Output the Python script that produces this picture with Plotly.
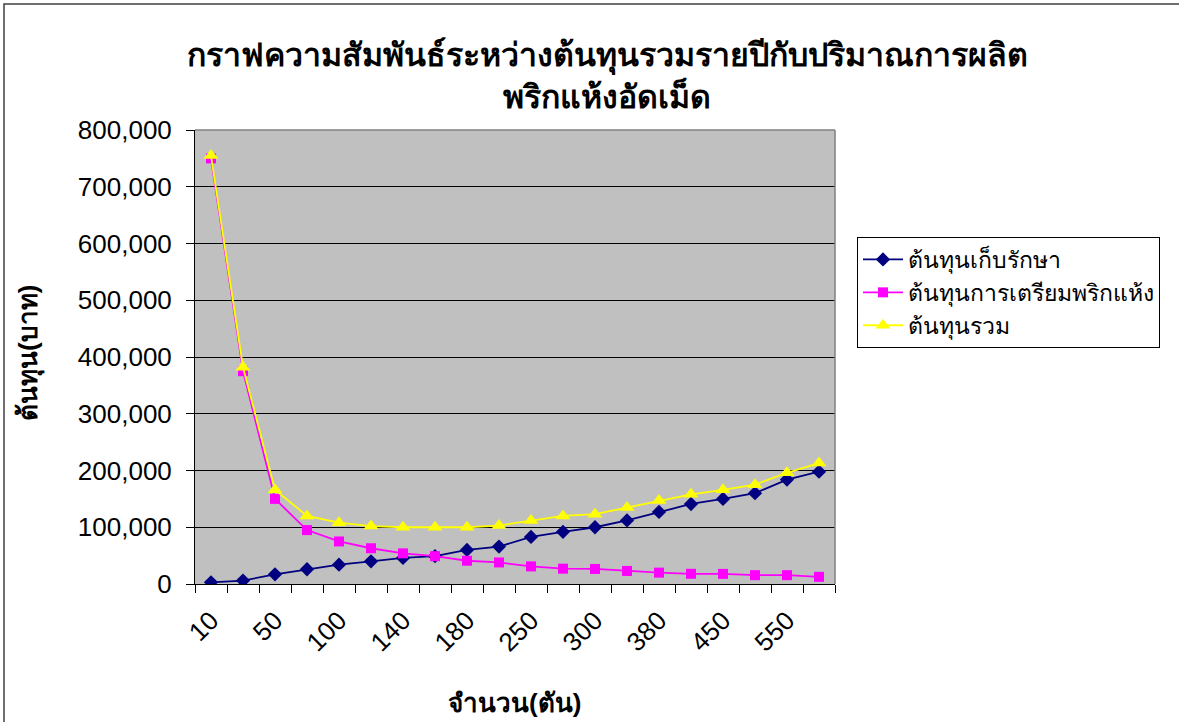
import plotly.graph_objects as go

categories = ["10", "20", "50", "80", "100", "120", "140", "150", "180", "200",
              "250", "280", "300", "340", "380", "420", "450", "480", "550", "600"]
storage_cost = [3000, 6000, 17000, 26000, 34000, 40000, 46000, 49000, 60000, 66000,
                83000, 92000, 100000, 112000, 127000, 141000, 150000, 160000, 184000, 198000]
prep_cost = [750000, 375000, 150000, 95000, 75000, 63000, 54000, 49000, 41000, 38000,
             31000, 27000, 26500, 23000, 20000, 18000, 17800, 15600, 15600, 12600]
total_cost = [755000, 382000, 166000, 120000, 108000, 102000, 100000, 100000, 100000, 103000,
              112000, 120000, 123000, 135000, 147000, 158000, 166000, 175000, 196000, 213000]

series_names = ["ต้นทุนเก็บรักษา", "ต้นทุนการเตรียมพริกแห้ง", "ต้นทุนรวม"]
title_lines = ["กราฟความสัมพันธ์ระหว่างต้นทุนรวมรายปีกับปริมาณการผลิต", "พริกแห้งอัดเม็ด"]
x_title = "จำนวน(ตัน)"
y_title = "ต้นทุน(บาท)"

FONT = "Liberation Sans, Arial, Noto Sans, sans-serif"
idx = list(range(len(categories)))

fig = go.Figure()
fig.add_trace(go.Scatter(x=idx, y=storage_cost, name=series_names[0], mode="lines+markers",
                         line=dict(color="#000080", width=1.8),
                         marker=dict(symbol="diamond", size=11, color="#000080")))
fig.add_trace(go.Scatter(x=idx, y=prep_cost, name=series_names[1], mode="lines+markers",
                         line=dict(color="#FF00FF", width=1.8),
                         marker=dict(symbol="square", size=10, color="#FF00FF")))
fig.add_trace(go.Scatter(x=idx, y=total_cost, name=series_names[2], mode="lines+markers",
                         line=dict(color="#FFFF00", width=1.8),
                         marker=dict(symbol="triangle-up", size=13, color="#FFFF00")))

L, R, T, B = 195, 835, 130, 584
W, H = 1179, 722

def px(xp):
    return (xp - L) / (R - L)

def py(yp):
    return (B - yp) / (B - T)

fig.update_layout(
    width=W, height=H,
    margin=dict(l=L, r=W - R, t=T, b=H - B),
    paper_bgcolor="white",
    plot_bgcolor="#C0C0C0",
    font=dict(family=FONT, size=25, color="black"),
    showlegend=True,
    legend=dict(x=px(857), y=py(237), xanchor="left", yanchor="top",
                bordercolor="black", borderwidth=1, bgcolor="white",
                font=dict(size=23), tracegroupgap=0, itemwidth=40),
)

fig.update_xaxes(
    range=[-0.5, len(categories) - 0.5],
    tickvals=idx[::2], ticktext=categories[::2],
    tickangle=-45, ticks="", showgrid=False, zeroline=False,
    showline=True, linecolor="black", linewidth=1,
    tickfont=dict(size=26), ticklabelstandoff=10,
    minor=dict(tickvals=[i - 0.5 for i in range(len(categories) + 1)],
               ticks="outside", ticklen=8, tickcolor="black", showgrid=False),
)
fig.update_yaxes(
    range=[0, 800000], dtick=100000, tickformat=",",
    showgrid=True, gridcolor="black", gridwidth=1, zeroline=False,
    showline=True, linecolor="black", linewidth=1,
    ticks="outside", ticklen=8, tickcolor="black",
    tickfont=dict(size=26), ticklabelstandoff=9,
)

# plot area top/right border
fig.add_shape(type="line", xref="paper", yref="paper", x0=0, x1=1, y0=1, y1=1,
              line=dict(color="#808080", width=1.5))
fig.add_shape(type="line", xref="paper", yref="paper", x0=1, x1=1, y0=0, y1=1,
              line=dict(color="#808080", width=1.5))
# outer chart frame
fig.add_shape(type="rect", xref="paper", yref="paper",
              x0=px(4), x1=px(1200), y0=py(740), y1=py(4),
              line=dict(color="#404040", width=1.5), layer="below")

fig.add_annotation(text="<b>" + title_lines[0] + "</b>", xref="paper", yref="paper",
                   x=px(607), y=py(57), xanchor="center", yanchor="middle",
                   showarrow=False, font=dict(size=32))
fig.add_annotation(text="<b>" + title_lines[1] + "</b>", xref="paper", yref="paper",
                   x=px(607), y=py(96), xanchor="center", yanchor="middle",
                   showarrow=False, font=dict(size=32))
fig.add_annotation(text="<b>" + x_title + "</b>", xref="paper", yref="paper",
                   x=px(514), y=py(703), xanchor="center", yanchor="middle",
                   showarrow=False, font=dict(size=26))
fig.add_annotation(text="<b>" + y_title + "</b>", xref="paper", yref="paper",
                   x=px(29), y=py(353), xanchor="center", yanchor="middle",
                   showarrow=False, textangle=-90, font=dict(size=26))

fig.write_html("out.html")
